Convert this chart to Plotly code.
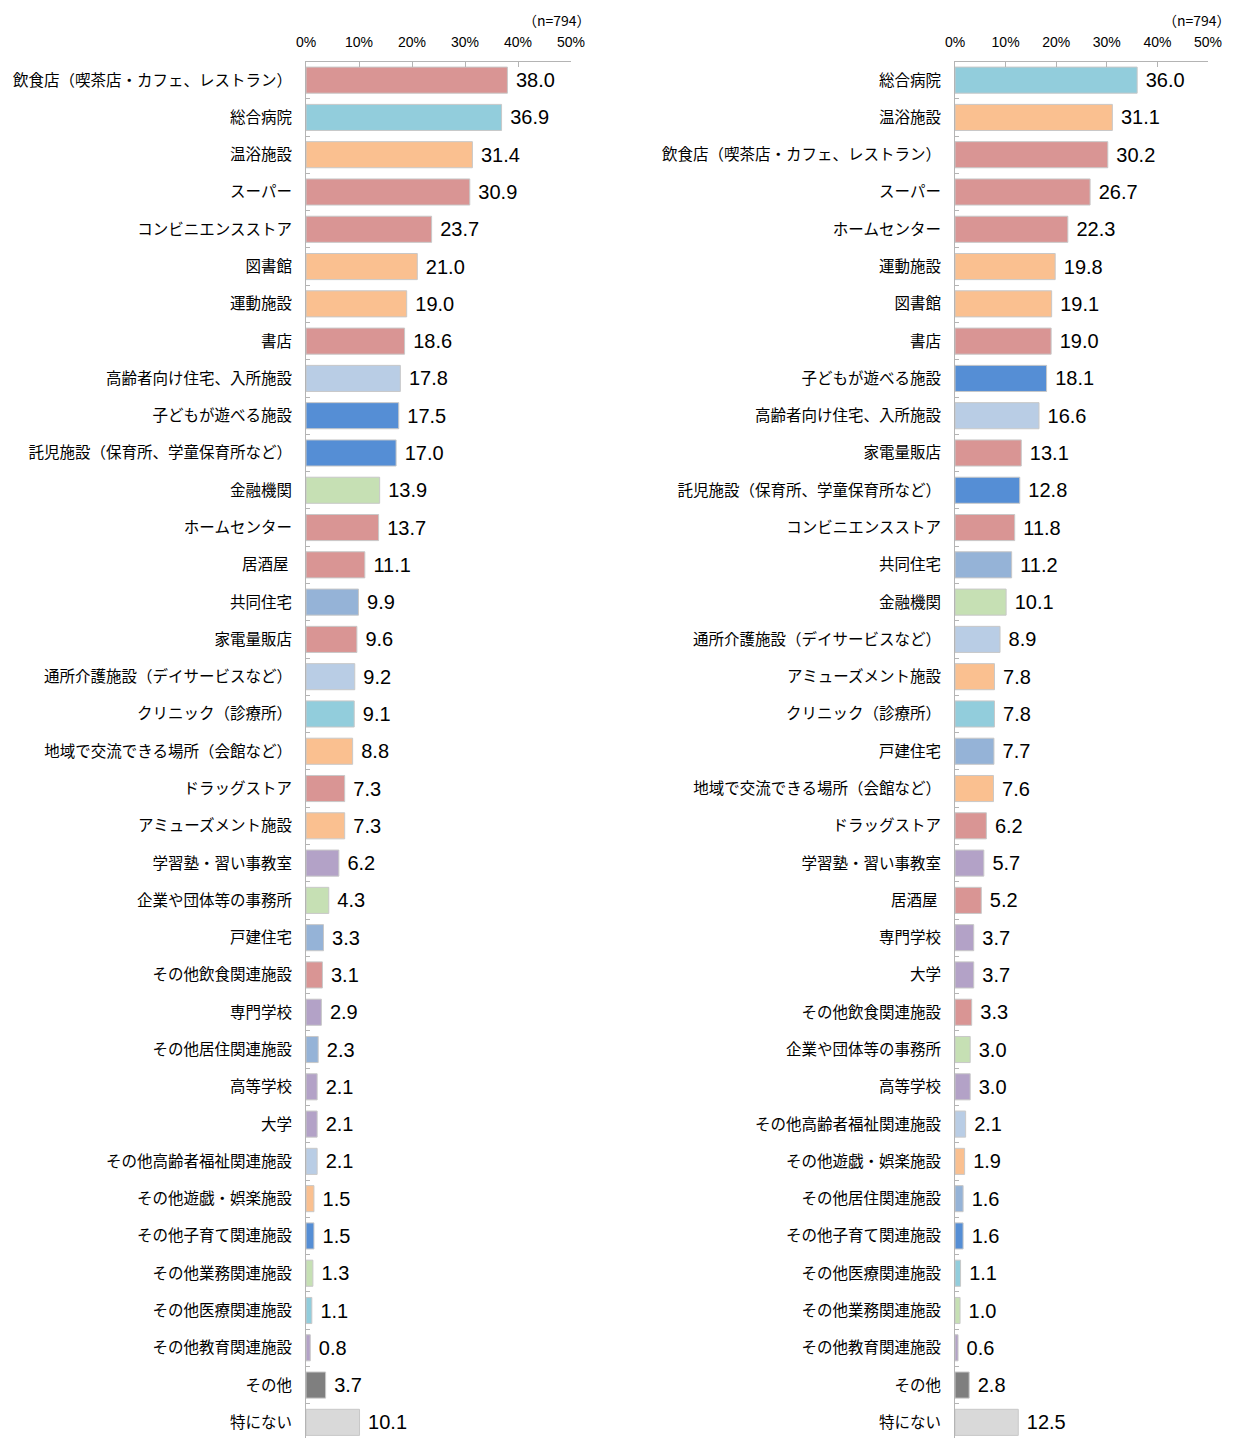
import plotly.graph_objects as go

# ---- data ----
left_categories = [
    "飲食店（喫茶店・カフェ、レストラン）", "総合病院", "温浴施設", "スーパー", "コンビニエンスストア",
    "図書館", "運動施設", "書店", "高齢者向け住宅、入所施設", "子どもが遊べる施設",
    "託児施設（保育所、学童保育所など）", "金融機関", "ホームセンター", "居酒屋 ", "共同住宅",
    "家電量販店", "通所介護施設（デイサービスなど）", "クリニック（診療所）", "地域で交流できる場所（会館など）",
    "ドラッグストア", "アミューズメント施設", "学習塾・習い事教室", "企業や団体等の事務所", "戸建住宅",
    "その他飲食関連施設", "専門学校", "その他居住関連施設", "高等学校", "大学",
    "その他高齢者福祉関連施設", "その他遊戯・娯楽施設", "その他子育て関連施設", "その他業務関連施設",
    "その他医療関連施設", "その他教育関連施設", "その他", "特にない",
]
left_values = [
    38.0, 36.9, 31.4, 30.9, 23.7, 21.0, 19.0, 18.6, 17.8, 17.5,
    17.0, 13.9, 13.7, 11.1, 9.9, 9.6, 9.2, 9.1, 8.8, 7.3,
    7.3, 6.2, 4.3, 3.3, 3.1, 2.9, 2.3, 2.1, 2.1, 2.1,
    1.5, 1.5, 1.3, 1.1, 0.8, 3.7, 10.1,
]

right_categories = [
    "総合病院", "温浴施設", "飲食店（喫茶店・カフェ、レストラン）", "スーパー", "ホームセンター",
    "運動施設", "図書館", "書店", "子どもが遊べる施設", "高齢者向け住宅、入所施設",
    "家電量販店", "託児施設（保育所、学童保育所など）", "コンビニエンスストア", "共同住宅", "金融機関",
    "通所介護施設（デイサービスなど）", "アミューズメント施設", "クリニック（診療所）", "戸建住宅",
    "地域で交流できる場所（会館など）", "ドラッグストア", "学習塾・習い事教室", "居酒屋 ", "専門学校",
    "大学", "その他飲食関連施設", "企業や団体等の事務所", "高等学校", "その他高齢者福祉関連施設",
    "その他遊戯・娯楽施設", "その他居住関連施設", "その他子育て関連施設", "その他医療関連施設",
    "その他業務関連施設", "その他教育関連施設", "その他", "特にない",
]
right_values = [
    36.0, 31.1, 30.2, 26.7, 22.3, 19.8, 19.1, 19.0, 18.1, 16.6,
    13.1, 12.8, 11.8, 11.2, 10.1, 8.9, 7.8, 7.8, 7.7, 7.6,
    6.2, 5.7, 5.2, 3.7, 3.7, 3.3, 3.0, 3.0, 2.1, 1.9,
    1.6, 1.6, 1.1, 1.0, 0.6, 2.8, 12.5,
]

x_tick_values = [0, 10, 20, 30, 40, 50]
x_tick_labels = ["0%", "10%", "20%", "30%", "40%", "50%"]
sample_note = "（n=794）"

# ---- styles ----
group_colors = {
    "food": "#D99594", "medical": "#92CDDC", "leisure": "#FAC090", "elderly": "#B9CDE5",
    "child": "#558ED5", "business": "#C6E0B4", "housing": "#95B3D7", "edu": "#B3A2C7",
    "other": "#7F7F7F", "none": "#D9D9D9",
}
category_group = {
    "飲食店（喫茶店・カフェ、レストラン）": "food", "スーパー": "food", "コンビニエンスストア": "food",
    "書店": "food", "ホームセンター": "food", "居酒屋 ": "food", "家電量販店": "food",
    "ドラッグストア": "food", "その他飲食関連施設": "food",
    "総合病院": "medical", "クリニック（診療所）": "medical", "その他医療関連施設": "medical",
    "温浴施設": "leisure", "図書館": "leisure", "運動施設": "leisure",
    "地域で交流できる場所（会館など）": "leisure", "アミューズメント施設": "leisure", "その他遊戯・娯楽施設": "leisure",
    "高齢者向け住宅、入所施設": "elderly", "通所介護施設（デイサービスなど）": "elderly",
    "その他高齢者福祉関連施設": "elderly",
    "子どもが遊べる施設": "child", "託児施設（保育所、学童保育所など）": "child", "その他子育て関連施設": "child",
    "金融機関": "business", "企業や団体等の事務所": "business", "その他業務関連施設": "business",
    "共同住宅": "housing", "戸建住宅": "housing", "その他居住関連施設": "housing",
    "学習塾・習い事教室": "edu", "専門学校": "edu", "高等学校": "edu", "大学": "edu",
    "その他教育関連施設": "edu",
    "その他": "other", "特にない": "none",
}

W, H = 1239, 1438
OFF = 8  # page body offset
AXIS_COLOR = "#B4B4B4"
JP_FONT = "Noto Sans CJK JP"
NUM_FONT = "Liberation Sans, Arial, sans-serif"

fig = go.Figure()


def add_panel(cats, vals, xa, ya):
    fig.add_trace(go.Bar(
        x=vals, y=cats, orientation="h",
        marker=dict(color=[group_colors[category_group[c]] for c in cats],
                    line=dict(color="#C8C8C8", width=1)),
        texttemplate=" %{x:.1f}", textposition="outside", cliponaxis=False,
        textfont=dict(family=NUM_FONT, size=20, color="#000000"),
        xaxis=xa, yaxis=ya, showlegend=False, hoverinfo="x+y",
    ))


add_panel(left_categories, left_values, "x", "y")
add_panel(right_categories, right_values, "x2", "y2")

ydom = [1 - (1441 - OFF) / H, 1 - (61.5 - OFF) / H]
xcommon = dict(
    range=[0, 50], side="top", tickmode="array", tickvals=x_tick_values, ticktext=x_tick_labels,
    showline=True, linecolor=AXIS_COLOR, linewidth=1, ticks="inside", ticklen=5,
    tickcolor=AXIS_COLOR, showgrid=False, zeroline=False, automargin=False,
    ticklabelstandoff=8,
    tickfont=dict(family=NUM_FONT, size=14, color="#000000"), fixedrange=True,
)
ycommon = dict(
    autorange="reversed", showline=True, linecolor=AXIS_COLOR, linewidth=1,
    ticks="inside", ticklen=4, tickcolor=AXIS_COLOR, tickson="boundaries",
    showgrid=False, ticklabelstandoff=10, automargin=False,
    tickfont=dict(family=JP_FONT, size=15.5, color="#000000"), fixedrange=True,
)

fig.update_layout(
    width=W, height=H, autosize=False,
    margin=dict(l=0, r=0, t=0, b=0),
    paper_bgcolor="white", plot_bgcolor="white",
    bargap=0.3,
    xaxis=dict(domain=[(306 - OFF) / W, (571 - OFF) / W], anchor="y", **xcommon),
    yaxis=dict(domain=ydom, anchor="x", categoryorder="array", categoryarray=left_categories, **ycommon),
    xaxis2=dict(domain=[(955 - OFF) / W, (1208 - OFF) / W], anchor="y2", **xcommon),
    yaxis2=dict(domain=ydom, anchor="x2", categoryorder="array", categoryarray=right_categories, **ycommon),
    annotations=[
        dict(text=sample_note, x=(592 - OFF) / W, y=1 - 1 / H, xref="paper", yref="paper",
             xanchor="right", yanchor="top", showarrow=False, borderpad=0,
             font=dict(family=JP_FONT, size=14, color="#000000")),
        dict(text=sample_note, x=(1232 - OFF) / W, y=1 - 1 / H, xref="paper", yref="paper",
             xanchor="right", yanchor="top", showarrow=False, borderpad=0,
             font=dict(family=JP_FONT, size=14, color="#000000")),
    ],
)

fig.write_html("out.html")
